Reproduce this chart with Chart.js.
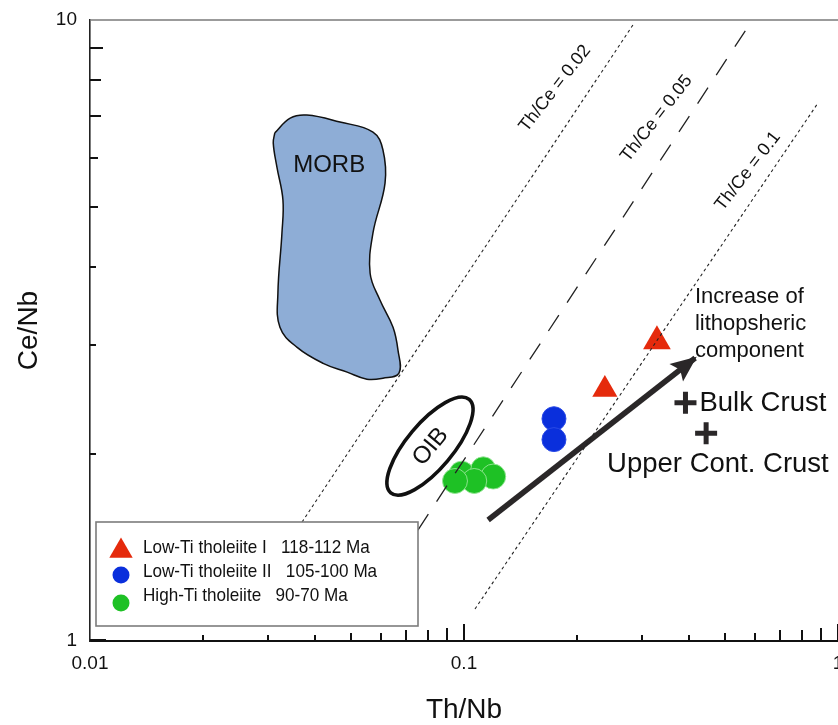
<!DOCTYPE html>
<html><head><meta charset="utf-8">
<script src="https://cdn.jsdelivr.net/npm/chart.js@4.4.1/dist/chart.umd.min.js"></script>
<style>html,body{margin:0;padding:0;background:#fff;}#wrap{width:838px;height:725px;}</style>
</head><body><div id="wrap"><canvas id="c" width="838" height="725"></canvas></div>
<script>
// ---------- data ----------
const xTickValues = [0.01, 0.1, 1];
const yTickValues = [1, 10];
const xTitle = 'Th/Nb';
const yTitle = 'Ce/Nb';

const seriesNames = ['Low-Ti tholeiite I   118-112 Ma', 'Low-Ti tholeiite II   105-100 Ma', 'High-Ti tholeiite   90-70 Ma'];
const lowTiI_ThNb = [0.238, 0.328];
const lowTiI_CeNb = [2.54, 3.04];
const lowTiII_ThNb = [0.174, 0.174];
const lowTiII_CeNb = [2.28, 2.11];
const highTi_ThNb = [0.0986, 0.1126, 0.1197, 0.1065, 0.0946];
const highTi_CeNb = [1.86, 1.89, 1.84, 1.81, 1.81];

const crustNames = ['Bulk Crust', 'Upper Cont. Crust'];
const crust_ThNb = [0.391, 0.444];
const crust_CeNb = [2.42, 2.16];

const morb_ThNb = [0.0312,0.0343,0.0380,0.0466,0.0571,0.0607,0.0615,0.0571,0.0561,0.0596,0.0646,0.0666,0.0670,0.0607,0.0550,0.0487,0.0420,0.0358,0.0322,0.0318,0.0326,0.0328,0.0316,0.0309,0.0312];
const morb_CeNb = [6.58,6.95,7.03,6.85,6.60,6.18,5.46,4.54,3.91,3.54,3.20,2.94,2.70,2.65,2.64,2.71,2.80,2.97,3.20,3.63,4.54,5.13,5.80,6.34,6.58];

const ratioLabels = ['Th/Ce = 0.02', 'Th/Ce = 0.05', 'Th/Ce = 0.1'];
const ratio002_ThNb = [0.0369, 0.283];
const ratio002_CeNb = [1.555, 9.82];
const ratio005_ThNb = [0.0753, 0.571];
const ratio005_CeNb = [1.509, 9.70];
const ratio01_ThNb = [0.107, 0.884];
const ratio01_CeNb = [1.126, 7.35];

const arrow_ThNb = [0.116, 0.415];
const arrow_CeNb = [1.566, 2.856];
const arrowText = ['Increase of', 'lithopsheric', 'component'];

// text anchors (data coordinates)
const morbLabelAt = [0.0436, 5.84];
const oibAt = [0.0811, 2.06];
const ratioLabelAt = [[0.1751, 7.76], [0.327, 6.94], [0.5745, 5.71]];
const arrowTextAt = [0.417, 3.50];

const pts = (xs, ys) => xs.map((x, i) => ({x: x, y: ys[i]}));

const SANS = "'Liberation Sans', Arial, Helvetica, sans-serif";

const datasets = [
  {label:'MORB', data: pts(morb_ThNb, morb_CeNb), showLine:true, fill:'shape', tension:0.4,
   backgroundColor:'#8eadd6', borderColor:'#111', borderWidth:1.5, pointRadius:0},
  {label:ratioLabels[0], data: pts(ratio002_ThNb, ratio002_CeNb), showLine:true, borderColor:'#222', borderWidth:1.1, borderDash:[3,3], pointRadius:0},
  {label:ratioLabels[1], data: pts(ratio005_ThNb, ratio005_CeNb), showLine:true, borderColor:'#222', borderWidth:1.3, borderDash:[19,15], pointRadius:0},
  {label:ratioLabels[2], data: pts(ratio01_ThNb, ratio01_CeNb), showLine:true, borderColor:'#222', borderWidth:1.1, borderDash:[3,3], pointRadius:0},
  {label:'arrow', data: pts(arrow_ThNb, arrow_CeNb), showLine:true, borderColor:'#2a2728', borderWidth:5.5, pointRadius:0, isArrow:true},
  {label:'crust', data: pts(crust_ThNb, crust_CeNb), pointStyle:'cross', pointRadius:11, borderWidth:5, borderColor:'#2a2728'},
  {label:seriesNames[2], data: pts(highTi_ThNb, highTi_CeNb), pointStyle:'circle', pointRadius:12.5,
   backgroundColor:'#1ec125', borderColor:'rgba(150,230,150,0.9)', borderWidth:1, inLegend:3},
  {label:seriesNames[1], data: pts(lowTiII_ThNb, lowTiII_CeNb), pointStyle:'circle', pointRadius:12,
   backgroundColor:'#0a2fdc', borderColor:'#2a4ae6', borderWidth:1, inLegend:2},
  {label:seriesNames[0], data: pts(lowTiI_ThNb, lowTiI_CeNb), pointStyle:'triangle', pointRadius:[14.5,16],
   backgroundColor:'#e52a0c', borderColor:'#e52a0c', borderWidth:0, inLegend:1},
];

const tickLen = {1:16, 2:6, 3:6, 4:6, 5:8, 6:8, 7:11, 8:11, 9:13};

function px(chart, x, y){ return [chart.scales.x.getPixelForValue(x), chart.scales.y.getPixelForValue(y)]; }

const overlay = {
  id:'overlay',
  beforeDatasetsDraw(chart){
    const ctx = chart.ctx, a = chart.chartArea, sx = chart.scales.x, sy = chart.scales.y;
    ctx.save();
    ctx.strokeStyle = '#7a7a7a'; ctx.lineWidth = 1.6;
    ctx.beginPath(); ctx.moveTo(a.left, a.top); ctx.lineTo(a.right, a.top); ctx.stroke();
    ctx.strokeStyle = '#111'; ctx.lineWidth = 2;
    for (let d = -2; d <= 0; d++) {
      for (let m = 1; m <= 9; m++) {
        const v = m * Math.pow(10, d);
        if (v <= sx.min * 1.0001 || v > sx.max * 1.0001) continue;
        const X = Math.round(sx.getPixelForValue(v));
        const L = (m === 1) ? 17 : tickLen[m];
        ctx.beginPath(); ctx.moveTo(X, a.bottom); ctx.lineTo(X, a.bottom - L); ctx.stroke();
      }
    }
    for (let d = 0; d <= 1; d++) {
      for (let m = 1; m <= 9; m++) {
        const v = m * Math.pow(10, d);
        if (v < sy.min * 0.9999 || v >= sy.max * 0.9999) continue;
        const Y = Math.round(sy.getPixelForValue(v)) - (m === 1 ? 1 : 0);
        ctx.beginPath(); ctx.moveTo(a.left, Y); ctx.lineTo(a.left + tickLen[m], Y); ctx.stroke();
      }
    }
    ctx.restore();
  },
  afterDatasetsDraw(chart){
    const ctx = chart.ctx, a = chart.chartArea;
    ctx.save();
    chart.data.datasets.forEach((ds, i) => {
      if (!ds.isArrow) return;
      const m = chart.getDatasetMeta(i);
      const p0 = m.data[0], p1 = m.data[m.data.length - 1];
      const ang = Math.atan2(p1.y - p0.y, p1.x - p0.x);
      ctx.save(); ctx.translate(p1.x, p1.y); ctx.rotate(ang);
      ctx.fillStyle = '#2a2728';
      ctx.beginPath(); ctx.moveTo(2, 0); ctx.lineTo(-24, -11); ctx.lineTo(-19, 0); ctx.lineTo(-24, 11); ctx.closePath(); ctx.fill();
      ctx.restore();
    });
    let [cx, cy] = px(chart, oibAt[0], oibAt[1]);
    ctx.strokeStyle = '#111'; ctx.lineWidth = 3.6;
    ctx.beginPath(); ctx.ellipse(cx, cy, 61, 23, -50 * Math.PI / 180, 0, Math.PI * 2); ctx.stroke();
    ctx.fillStyle = '#111';
    ctx.save(); ctx.translate(cx, cy); ctx.rotate(-50 * Math.PI / 180);
    ctx.font = '24px ' + SANS; ctx.textAlign = 'center'; ctx.textBaseline = 'middle';
    ctx.fillText('OIB', 0, 1); ctx.restore();
    [cx, cy] = px(chart, morbLabelAt[0], morbLabelAt[1]);
    ctx.font = '24px ' + SANS; ctx.textAlign = 'center'; ctx.textBaseline = 'middle';
    ctx.fillText('MORB', cx, cy);
    ctx.font = '18px ' + SANS;
    ratioLabelAt.forEach((p, i) => {
      const [X, Y] = px(chart, p[0], p[1]);
      ctx.save(); ctx.translate(X, Y); ctx.rotate(-52 * Math.PI / 180);
      ctx.fillText(ratioLabels[i], 0, 0); ctx.restore();
    });
    [cx, cy] = px(chart, arrowTextAt[0], arrowTextAt[1]);
    ctx.font = '22px ' + SANS; ctx.textAlign = 'left'; ctx.textBaseline = 'alphabetic';
    arrowText.forEach((t, i) => ctx.fillText(t, cx - 1, cy + i * 27));
    ctx.font = '27.5px ' + SANS;
    let [bx, by] = px(chart, crust_ThNb[0], crust_CeNb[0]);
    ctx.fillText(crustNames[0], bx + 14, by + 8);
    let [ux, uy] = px(chart, crust_ThNb[1], crust_CeNb[1]);
    ctx.fillText(crustNames[1], ux - 99, uy + 39);
    // legend
    const L = a.left + 6, T = a.bottom - 119, W = 322, H = 104;
    ctx.fillStyle = '#fff'; ctx.fillRect(L, T, W, H);
    ctx.strokeStyle = '#7c7c7c'; ctx.lineWidth = 1.6; ctx.strokeRect(L, T, W, H);
    const entries = chart.data.datasets.filter(d => d.inLegend).sort((p, q) => p.inLegend - q.inLegend);
    const rowTextY = [26, 50, 74], rowMarkY = [29, 53, 81];
    ctx.font = '19px ' + SANS; ctx.textBaseline = 'middle'; ctx.textAlign = 'left';
    entries.forEach((d, i) => {
      ctx.fillStyle = d.backgroundColor; ctx.strokeStyle = d.backgroundColor;
      const r = d.pointStyle === 'triangle' ? 13.5 : 8.5;
      Chart.helpers.drawPoint(ctx, {pointStyle: d.pointStyle, radius: r, rotation: 0, borderWidth: 0}, L + 25, T + rowMarkY[i]);
      ctx.fillStyle = '#111';
      ctx.save(); ctx.translate(L + 47, T + rowTextY[i]); ctx.scale(0.9, 1);
      ctx.fillText(d.label, 0, 0); ctx.restore();
    });
    ctx.restore();
  }
};

function zeroPad(s){ s.paddingLeft = 0; s.paddingRight = 0; s.paddingTop = 0; s.paddingBottom = 0; }

new Chart(document.getElementById('c'), {
  type: 'scatter',
  data: {datasets: datasets},
  plugins: [overlay],
  options: {
    responsive: false, animation: false, events: [], devicePixelRatio: 1,
    layout: {autoPadding: false, padding: {top: 20, left: 0, right: 0, bottom: 0}},
    plugins: {legend: {display: false}, tooltip: {enabled: false}, title: {display: false}},
    scales: {
      x: {
        type: 'logarithmic', position: 'bottom', min: 0.01, max: 1, offset: false,
        afterFit: s => { s.height = 84; zeroPad(s); },
        afterBuildTicks: s => { s.ticks = xTickValues.map(v => ({value: v})); },
        grid: {display: false, drawTicks: false},
        border: {display: true, color: '#111', width: 2},
        ticks: {padding: 11, color: '#111', font: {family: SANS, size: 19}, maxRotation: 0, autoSkip: false,
                callback: v => String(v)},
        title: {display: true, text: xTitle, color: '#111', font: {family: SANS, size: 28, lineHeight: 1}, padding: {top: 0, bottom: 1}}
      },
      y: {
        type: 'logarithmic', position: 'left', min: 1, max: 10, offset: false,
        afterFit: s => { s.width = 90; zeroPad(s); },
        afterBuildTicks: s => { s.ticks = yTickValues.map(v => ({value: v})); },
        grid: {display: false, drawTicks: false},
        border: {display: true, color: '#222', width: 1.6},
        ticks: {padding: 13, color: '#111', font: {family: SANS, size: 19}, autoSkip: false,
                callback: v => String(v)},
        title: {display: true, text: yTitle, color: '#111', font: {family: SANS, size: 28, lineHeight: 1}, padding: {top: 15, bottom: 0}}
      }
    }
  }
});
</script></body></html>
